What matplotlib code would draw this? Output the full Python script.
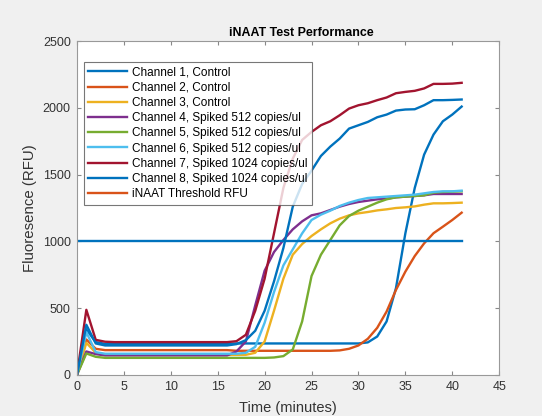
import numpy as np
import matplotlib
matplotlib.use('Agg')
import matplotlib.pyplot as plt

plt.rcParams['font.family'] = ['Liberation Sans', 'DejaVu Sans']

##### data #####

# time in minutes
time = list(range(42))

# Channel 1, Control (late rise)
ch1 = [0, 340, 245] + [232] * 14 + [235] * 14 + \
      [243, 287, 400, 650, 1060, 1400, 1650, 1800, 1900, 1950, 2010]
# Channel 2, Control
ch2 = [0, 265, 195] + [185] * 14 + [180] * 11 + \
      [183, 195, 220, 270, 352, 474, 636, 773, 890, 985, 1061, 1110, 1160, 1215]
# Channel 3, Control
ch3 = [0, 240, 165] + [150] * 16 + \
      [165, 250, 480, 720, 900, 980, 1040, 1090, 1135, 1170, 1195, 1210,
       1220, 1232, 1240, 1250, 1255, 1262, 1275, 1285, 1285, 1287, 1290]
# Channel 4, Spiked 512
ch4 = [0, 175, 155] + [145] * 14 + \
      [175, 250, 520, 780, 920, 1010, 1090, 1150, 1195, 1210, 1235, 1260, 1280,
       1295, 1305, 1315, 1320, 1330, 1335, 1340, 1345, 1355, 1355, 1355, 1355]
# Channel 5, Spiked 512
ch5 = [0, 160, 135] + [127] * 18 + \
      [130, 140, 190, 400, 740, 900, 1010, 1120, 1190, 1230, 1260, 1290, 1315,
       1330, 1335, 1340, 1345, 1365, 1370, 1372, 1375]
# Channel 6, Spiked 512
ch6 = [0, 320, 170] + [158] * 15 + \
      [165, 210, 390, 620, 820, 940, 1060, 1160, 1200, 1230, 1265, 1290,
       1310, 1325, 1330, 1335, 1340, 1345, 1350, 1360, 1370, 1375, 1375, 1380]
# Channel 7, Spiked 1024
ch7 = [0, 487, 262, 248] + [245] * 13 + \
      [252, 300, 480, 720, 1060, 1400, 1620, 1760, 1820, 1870, 1900, 1945, 1995,
       2020, 2035, 2058, 2078, 2110, 2120, 2128, 2146, 2180, 2180, 2182, 2188]
# Channel 8, Spiked 1024
ch8 = [0, 375, 235] + [220] * 14 + \
      [230, 260, 330, 480, 700, 950, 1260, 1430, 1530, 1640, 1710, 1770, 1845,
       1870, 1895, 1930, 1950, 1980, 1988, 1990, 2020, 2058, 2058, 2060, 2063]

threshold = 1000

labels = ['Channel 1, Control', 'Channel 2, Control', 'Channel 3, Control',
          'Channel 4, Spiked 512 copies/ul', 'Channel 5, Spiked 512 copies/ul',
          'Channel 6, Spiked 512 copies/ul', 'Channel 7, Spiked 1024 copies/ul',
          'Channel 8, Spiked 1024 copies/ul']

# MATLAB default color order
colors = ['#0072BD', '#D95319', '#EDB120', '#7E2F8E', '#77AC30',
          '#4DBEEE', '#A2142F', '#0072BD']

##### plot #####

fig = plt.figure(figsize=(5.42, 4.16), dpi=100, facecolor='#f0f0f0')
ax = fig.add_axes([0.142, 0.099, 0.779, 0.802])

for y, c, lab in zip([ch1, ch2, ch3, ch4, ch5, ch6, ch7, ch8], colors, labels):
    ax.plot(time, y, color=c, lw=1.7, label=lab)

ax.plot([time[0], time[-1]], [threshold, threshold], color='#0072BD', lw=1.7,
        label='iNAAT Threshold RFU')

ax.set_xlim(0, 45)
ax.set_ylim(0, 2500)
ax.set_xticks(np.arange(0, 46, 5))
ax.set_yticks(np.arange(0, 2501, 500))
ax.tick_params(direction='in', top=True, right=True, length=3, pad=4.5,
               labelsize=9, colors='#888888', labelcolor='#333333')
for s in ax.spines.values():
    s.set_color('#999999')
    s.set_linewidth(0.8)

ax.set_xlabel('Time (minutes)', fontsize=10.5, color='#333333', labelpad=6)
ax.set_ylabel('Fluoresence (RFU)', fontsize=10.8, color='#333333', labelpad=4)
ax.set_title('iNAAT Test Performance', fontsize=8.9, weight='bold', pad=4,
             x=0.531)

leg = ax.legend(loc='upper left', bbox_to_anchor=(0.016, 0.938), fontsize=8.5,
                frameon=True, fancybox=False, edgecolor='#555555',
                handlelength=3.3, handletextpad=0.4, labelspacing=0.27,
                borderpad=0.4, borderaxespad=0)
leg.get_frame().set_linewidth(0.8)
# threshold entry shows in orange in the legend
leg.legend_handles[8].set_color('#D95319')

plt.savefig('out.png', dpi=100, facecolor=fig.get_facecolor())
